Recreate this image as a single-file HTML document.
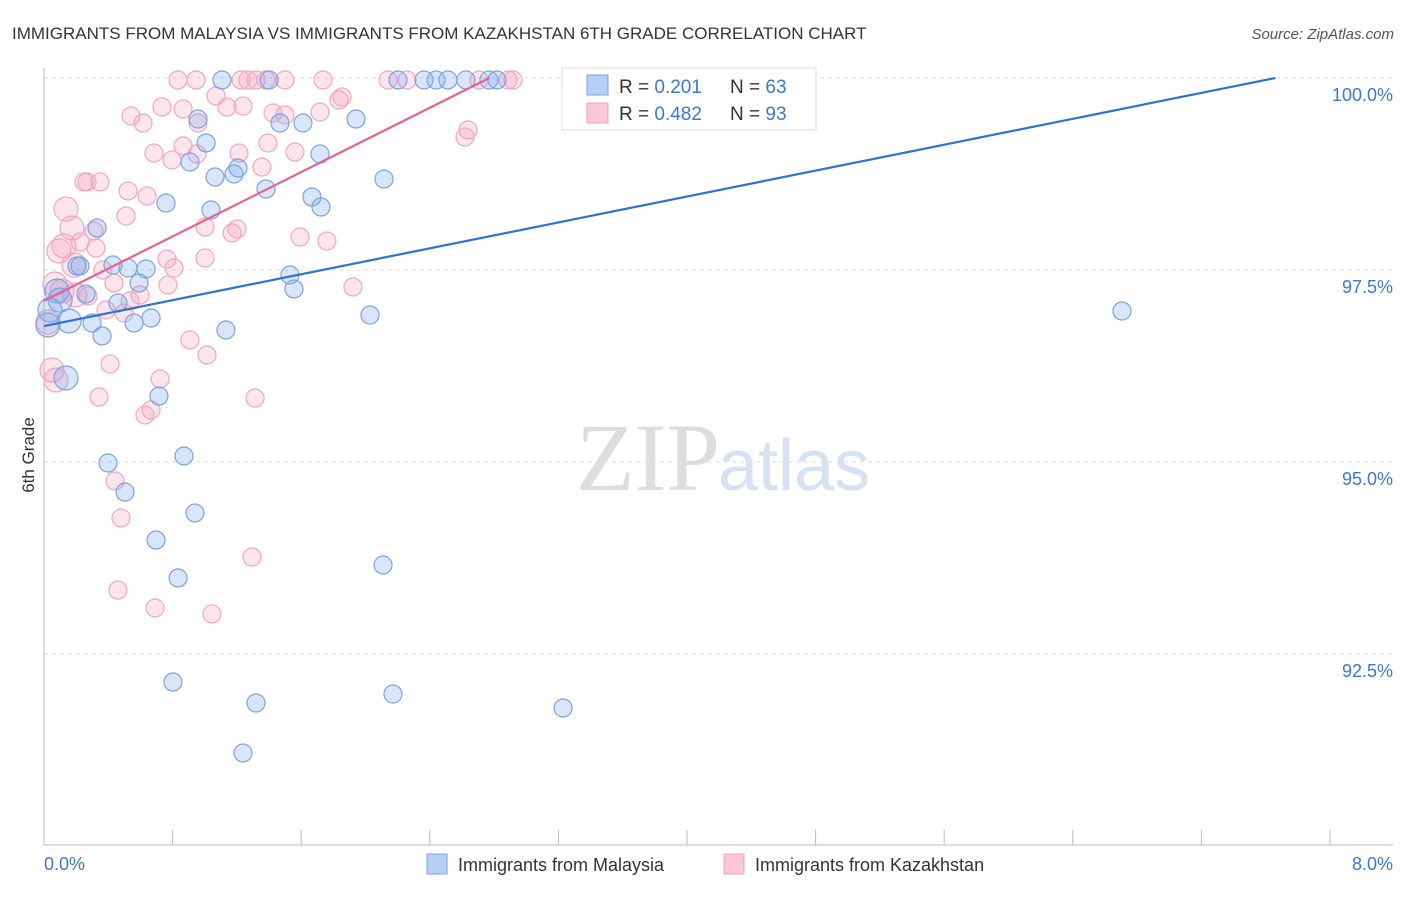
<!DOCTYPE html>
<html><head><meta charset="utf-8"><style>
body{margin:0;background:#fff;font-family:"Liberation Sans",sans-serif}
</style></head><body>
<svg id="c" width="1406" height="892" xmlns="http://www.w3.org/2000/svg" style="font-family:'Liberation Sans',sans-serif">
<text x="12" y="39" font-size="17" fill="#333">IMMIGRANTS FROM MALAYSIA VS IMMIGRANTS FROM KAZAKHSTAN 6TH GRADE CORRELATION CHART</text>
<text x="1394" y="39" font-size="15" fill="#555" text-anchor="end" font-style="italic">Source: ZipAtlas.com</text>
<text x="34" y="455" font-size="17" fill="#333" text-anchor="middle" transform="rotate(-90 34 455)">6th Grade</text>
<text x="720" y="490" font-size="96" fill="#ddd" text-anchor="end" font-family="Liberation Serif">ZIP</text>
<text x="718" y="490" font-size="72" fill="#d6e2f3">atlas</text>
<g id="grid"></g><g id="pts"></g><g id="lines"></g>
<g>
<rect x="562" y="68" width="254" height="62" fill="#fff" stroke="#ddd"/>
<rect x="587" y="75" width="21" height="20" fill="#b8d0f5" stroke="#7aa0e0"/>
<rect x="587" y="103" width="21" height="20" fill="#fac8d6" stroke="#f0a0bb"/>
<text x="619" y="93" font-size="19" fill="#333">R = <tspan fill="#3a78d4">0.201</tspan></text>
<text x="730" y="93" font-size="19" fill="#333">N = <tspan fill="#3a78d4">63</tspan></text>
<text x="619" y="120" font-size="19" fill="#333">R = <tspan fill="#3a78d4">0.482</tspan></text>
<text x="730" y="120" font-size="19" fill="#333">N = <tspan fill="#3a78d4">93</tspan></text>
</g>
<g>
<rect x="427" y="854" width="20" height="20" fill="#b8d0f5" stroke="#7aa0e0"/>
<text x="458" y="871" font-size="18" fill="#333">Immigrants from Malaysia</text>
<rect x="724" y="854" width="20" height="20" fill="#fac8d6" stroke="#f0a0bb"/>
<text x="755" y="871" font-size="18" fill="#333">Immigrants from Kazakhstan</text>
</g>
</svg>
<script>
const yTicks=[100,97.5,95,92.5];
const yTickLabels=["100.0%","97.5%","95.0%","92.5%"];
const xTickLabels=["0.0%","8.0%"];
const malaysiaPx=[[222,80],[269,80],[398,80],[424,80],[436,80],[448,80],[466,80],[489,80],[497,80],[198,119],[280,123],[303,123],[356,119],[206,143],[320,154],[190,162],[215,177],[234,174],[238,168],[384,179],[266,189],[312,197],[321,207],[166,203],[211,210],[97,228],[113,265],[77,266],[128,268],[146,269],[290,275],[294,289],[139,283],[57,291],[86,294],[118,303],[151,318],[134,323],[69,321],[92,323],[102,336],[226,330],[370,315],[1122,311],[48,325],[66,378],[159,396],[108,463],[184,456],[125,492],[195,513],[156,540],[178,578],[383,565],[173,682],[256,703],[393,694],[563,708],[243,753],[50,310],[80,266],[590,80],[60,300]];
const kazakhPx=[[178,80],[196,80],[241,80],[248,80],[256,80],[266,80],[285,80],[323,80],[388,80],[407,80],[479,80],[508,80],[513,80],[571,80],[162,107],[183,109],[131,116],[143,123],[198,123],[216,96],[227,107],[243,106],[273,113],[285,115],[320,112],[339,100],[342,97],[468,130],[465,137],[154,153],[172,160],[183,146],[197,154],[239,153],[268,143],[295,152],[262,167],[84,182],[87,182],[100,182],[128,191],[147,196],[66,209],[126,216],[72,228],[94,231],[205,227],[232,233],[237,229],[300,237],[327,241],[59,251],[64,246],[80,242],[96,248],[103,270],[74,265],[167,259],[174,268],[205,258],[55,284],[62,291],[114,283],[140,295],[168,285],[106,310],[124,313],[130,301],[190,340],[207,355],[353,287],[110,364],[52,370],[56,380],[160,379],[99,397],[255,398],[151,410],[145,415],[115,481],[121,518],[252,557],[118,590],[155,608],[212,614],[75,295],[88,296],[48,322]];
// convert pixel readings to data values
const malaysiaX=malaysiaPx.map(p=>+((p[0]-44)/1286*8).toFixed(3));
const malaysiaY=malaysiaPx.map(p=>+(100-(p[1]-78)/192*2.5).toFixed(3));
const kazakhX=kazakhPx.map(p=>+((p[0]-44)/1286*8).toFixed(3));
const kazakhY=kazakhPx.map(p=>+(100-(p[1]-78)/192*2.5).toFixed(3));
const malaysiaTrend=[[0,96.77],[7.66,100]];
const kazakhTrend=[[0,97.1],[2.77,100]];
const X=v=>44+v/8*1286, Y=v=>78+(100-v)/2.5*192;
const NS="http://www.w3.org/2000/svg";
function mk(t,a,p){const e=document.createElementNS(NS,t);for(const k in a)e.setAttribute(k,a[k]);p.appendChild(e);return e;}
const g=document.getElementById('grid');
yTicks.forEach((t,i)=>{
 const l=mk('line',{x1:44,x2:1393,y1:Y(t),y2:Y(t),stroke:'#ddd','stroke-dasharray':'4,4'},g);
 
 
 const tx=mk('text',{x:1393,y:Y(t)+23,'font-size':18,fill:'#3a78d4','text-anchor':'end'},g);
 tx.textContent=yTickLabels[i];
 
 
});
const ax=mk('line',{x1:44,x2:44,y1:68,y2:845,stroke:'#bbb'},g);


const bx=mk('line',{x1:44,x2:1393,y1:845,y2:845,stroke:'#bbb'},g);


for(let i=0;i<=10;i++){
 const t=mk('line',{x1:X(i*0.8),x2:X(i*0.8),y1:830,y2:845,stroke:'#bbb'},g);
 
 
}
[[0,44,'start'],[1,1393,'end']].forEach(([i,x,a])=>{
 const t=mk('text',{x:x,y:870,'font-size':18,fill:'#3a78d4','text-anchor':a},g);
 t.textContent=xTickLabels[i];
 
 
});
const pg=document.getElementById('pts');
function pts(xs,ys,fill,stroke,name){
 xs.forEach((x,i)=>{
  const r=x<0.2?12:9;
  const c=mk('circle',{cx:X(x),cy:Y(ys[i]),r:r,fill:fill,stroke:stroke,'stroke-width':1.2},pg);
  
  
 });
}
pts(kazakhX,kazakhY,'rgba(244,160,188,0.28)','#f2a6c0','point-kazakhstan');
pts(malaysiaX,malaysiaY,'rgba(120,164,232,0.28)','#7aa3e3','point-malaysia');
const lg=document.getElementById('lines');
const l1=mk('line',{x1:X(malaysiaTrend[0][0]),y1:Y(malaysiaTrend[0][1]),x2:X(malaysiaTrend[1][0]),y2:Y(malaysiaTrend[1][1]),stroke:'#2f72d4','stroke-width':2.2},lg);


const l2=mk('line',{x1:X(kazakhTrend[0][0]),y1:Y(kazakhTrend[0][1]),x2:X(kazakhTrend[1][0]),y2:Y(kazakhTrend[1][1]),stroke:'#e8628f','stroke-width':2.2},lg);


</script>
</body></html>
